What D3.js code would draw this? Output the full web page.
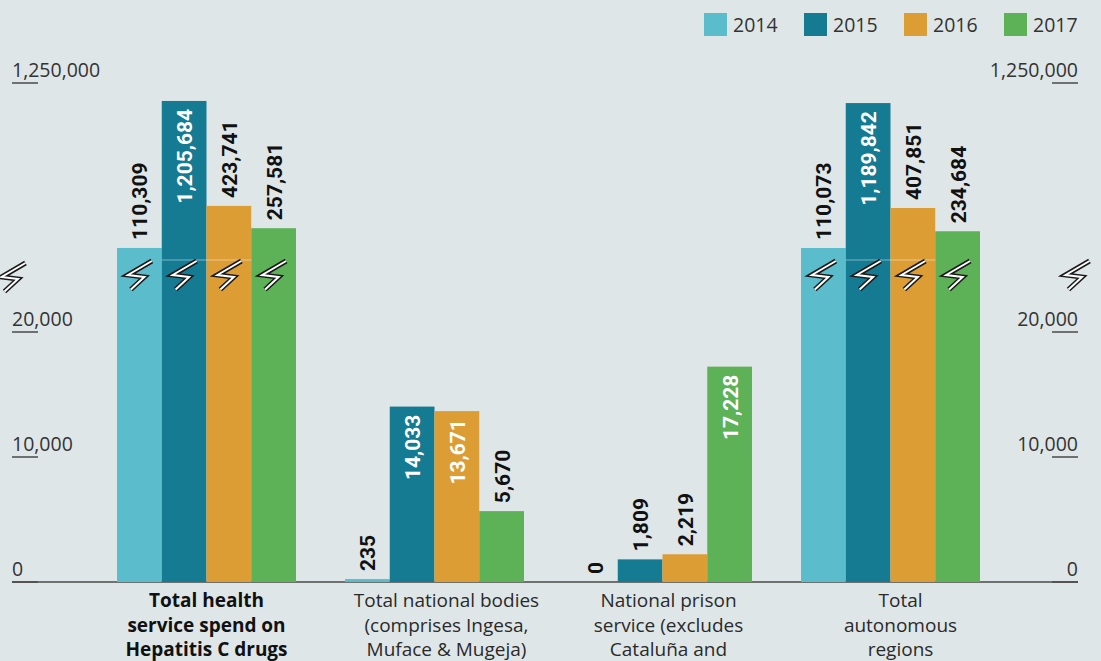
<!DOCTYPE html>
<html>
<head>
<meta charset="utf-8">
<script src="https://cdn.jsdelivr.net/npm/d3@7"></script>
<style>
  html, body { margin: 0; padding: 0; background: #dfe6e8; }
  svg { display: block; }
</style>
</head>
<body>
<div id="chart"></div>
<script>
(function(){

// ---- data ----
const years = ['2014', '2015', '2016', '2017'];
const categories = ['health', 'national', 'prison', 'regions'];
const categoryLines = [
    ['Total health', 'service spend on', 'Hepatitis C drugs'],
    ['Total national bodies', '(comprises Ingesa,', 'Muface & Mugeja)'],
    ['National prison', 'service (excludes', 'Cataluña and'],
    ['Total', 'autonomous', 'regions']
];
const spend2014 = [110309, 235, 0, 110073];
const spend2015 = [1205684, 14033, 1809, 1189842];
const spend2016 = [423741, 13671, 2219, 407851];
const spend2017 = [257581, 5670, 17228, 234684];
const lowerTicks = [0, 10000, 20000];
const upperTicks = [1250000];
const yearColors = ['#5bbdcb', '#147b93', '#dd9d35', '#5db157'];

const series = [spend2014, spend2015, spend2016, spend2017];

function drawChart() {
    const width = 1101, height = 661;
    const baseY = 582;
    const breakY = 260;
    const breakValue = 20000;   // values above this go on the upper (compressed) scale
    const labelShift = [0, 12, 6, 10]; // category text boxes sit a bit right of the bars

    const svg = d3.select('#chart')
        .append('svg')
        .attr('width', width)
        .attr('height', height)
        .style('background', '#dfe6e8');

    // x scales
    const x0 = d3.scaleBand()
        .domain(categories)
        .range([92.5, 1004.5])
        .paddingInner(0.215)
        .paddingOuter(0.1075);

    const x1 = d3.scaleBand()
        .domain(years)
        .range([0, x0.bandwidth()]);

    // broken y axis: linear bottom part, compressed top part
    const yLow = d3.scaleLinear()
        .domain([0, 20000])
        .range([baseY, 332]);

    const yHigh = d3.scaleLinear()
        .domain([110000, 1250000])
        .range([248, 95]);

    const y = v => v > breakValue ? yHigh(v) : yLow(v);

    // ---- axis ----
    svg.append('line')
        .attr('x1', 12).attr('x2', 1078)
        .attr('y1', baseY).attr('y2', baseY)
        .attr('stroke', '#4a4a4a')
        .attr('stroke-width', 1.3);

    const tickFmt = d3.format(',');
    const tickData = lowerTicks.map(v => ({ v: v, y: yLow(v) }))
        .concat(upperTicks.map(v => ({ v: v, y: yHigh(v) - 12 })));

    // left ticks
    const leftTicks = svg.append('g').attr('class', 'ticks-left');
    leftTicks.selectAll('text')
        .data(tickData)
        .enter()
        .append('text')
        .attr('x', 12)
        .attr('y', d => d.y - 6)
        .attr('font-family', 'Open Sans, sans-serif')
        .attr('font-size', '19.5px')
        .attr('fill', '#333')
        .text(d => tickFmt(d.v));
    leftTicks.selectAll('line')
        .data(tickData)
        .enter()
        .append('line')
        .attr('x1', 12).attr('x2', 38)
        .attr('y1', d => d.y).attr('y2', d => d.y)
        .attr('stroke', '#4a4a4a')
        .attr('stroke-width', 1.5);

    // right ticks
    const rightTicks = svg.append('g').attr('class', 'ticks-right');
    rightTicks.selectAll('text')
        .data(tickData)
        .enter()
        .append('text')
        .attr('x', 1078)
        .attr('y', d => d.y - 6)
        .attr('text-anchor', 'end')
        .attr('font-family', 'Open Sans, sans-serif')
        .attr('font-size', '19.5px')
        .attr('fill', '#333')
        .text(d => tickFmt(d.v));
    rightTicks.selectAll('line')
        .data(tickData)
        .enter()
        .append('line')
        .attr('x1', 1052).attr('x2', 1078)
        .attr('y1', d => d.y).attr('y2', d => d.y)
        .attr('stroke', '#4a4a4a')
        .attr('stroke-width', 1.5);

    // ---- bars ----
    const barData = [];
    categories.forEach((c, ci) => {
        years.forEach((yr, yi) => {
            barData.push({ cat: c, ci: ci, year: yr, yi: yi, value: series[yi][ci] });
        });
    });

    svg.selectAll('.bar')
        .data(barData)
        .enter()
        .append('rect')
        .attr('class', 'bar')
        .attr('x', d => x0(d.cat) + x1(d.year))
        .attr('y', d => y(d.value))
        .attr('width', x1.bandwidth())
        .attr('height', d => baseY - y(d.value))
        .attr('fill', d => yearColors[d.yi]);

    // faint line where the scale is cut
    const brokenCats = categories.filter((c, ci) => series.some(s => s[ci] > breakValue));
    svg.selectAll('.cut')
        .data(brokenCats)
        .enter()
        .append('line')
        .attr('class', 'cut')
        .attr('x1', d => x0(d) + x1('2015'))
        .attr('x2', d => x0(d) + x1('2017'))
        .attr('y1', breakY).attr('y2', breakY)
        .attr('stroke', '#ffffff')
        .attr('stroke-opacity', 0.45)
        .attr('stroke-width', 1.2);

    // break symbols
    const zig = 'M12.5,-14 L-11.5,0 L5,2 L-8.5,14.5';
    const symbolPos = [];
    barData.filter(d => d.value > breakValue).forEach(d => {
        symbolPos.push({ x: x0(d.cat) + x1(d.year) + x1.bandwidth() / 2, y: 275 });
    });
    symbolPos.push({ x: 13, y: 277 });
    symbolPos.push({ x: 1077, y: 275 });

    const sym = svg.selectAll('.brk')
        .data(symbolPos)
        .enter()
        .append('g')
        .attr('class', 'brk')
        .attr('transform', d => `translate(${d.x},${d.y})`);
    sym.append('path')
        .attr('d', zig)
        .attr('fill', 'none')
        .attr('stroke', '#1a1a1a')
        .attr('stroke-width', 5)
        .attr('stroke-linejoin', 'miter');
    sym.append('path')
        .attr('d', zig)
        .attr('fill', 'none')
        .attr('stroke', '#ffffff')
        .attr('stroke-width', 2)
        .attr('stroke-linejoin', 'miter');

    // ---- value labels ----
    const labelInside = d => d.value > breakValue ? d.value > 1000000 : d.value > 10000;
    const valueFmt = d3.format(',');

    svg.selectAll('.val')
        .data(barData)
        .enter()
        .append('text')
        .attr('class', 'val')
        .attr('transform', d => {
            const cx = x0(d.cat) + x1(d.year) + x1.bandwidth() / 2 + 1;
            const ty = labelInside(d) ? y(d.value) + 8 : y(d.value) - 8;
            return `translate(${cx},${ty}) rotate(-90)`;
        })
        .attr('text-anchor', d => labelInside(d) ? 'end' : 'start')
        .attr('dominant-baseline', 'central')
        .attr('font-family', 'Roboto, sans-serif')
        .attr('font-weight', 'bold')
        .attr('font-size', '21px')
        .attr('fill', d => labelInside(d) ? '#ffffff' : '#111111')
        .text(d => valueFmt(d.value));

    // ---- category labels ----
    const catLabels = svg.selectAll('.cat')
        .data(categories)
        .enter()
        .append('text')
        .attr('class', 'cat')
        .attr('x', (d, i) => x0(d) + x0.bandwidth() / 2 + labelShift[i])
        .attr('y', 607)
        .attr('text-anchor', 'middle')
        .attr('font-family', 'Open Sans, sans-serif')
        .attr('font-size', '19px')
        .attr('font-weight', (d, i) => i === 0 ? 'bold' : 'normal')
        .attr('fill', (d, i) => i === 0 ? '#111' : '#2a2a2a');

    catLabels.selectAll('tspan')
        .data((d, i) => categoryLines[i])
        .enter()
        .append('tspan')
        .attr('x', function() { return d3.select(this.parentNode).attr('x'); })
        .attr('dy', (d, i) => i === 0 ? 0 : 24.5)
        .text(d => d);

    // ---- legend ----
    const legend = svg.append('g').attr('class', 'legend');
    const items = legend.selectAll('g')
        .data(years)
        .enter()
        .append('g')
        .attr('transform', (d, i) => `translate(${704 + i * 100},13)`);
    items.append('rect')
        .attr('width', 23)
        .attr('height', 23)
        .attr('fill', (d, i) => yearColors[i]);
    items.append('text')
        .attr('x', 29)
        .attr('y', 19)
        .attr('font-family', 'Open Sans, sans-serif')
        .attr('font-size', '19.5px')
        .attr('fill', '#333')
        .text(d => d);
}

drawChart();

})();
</script>
</body>
</html>
